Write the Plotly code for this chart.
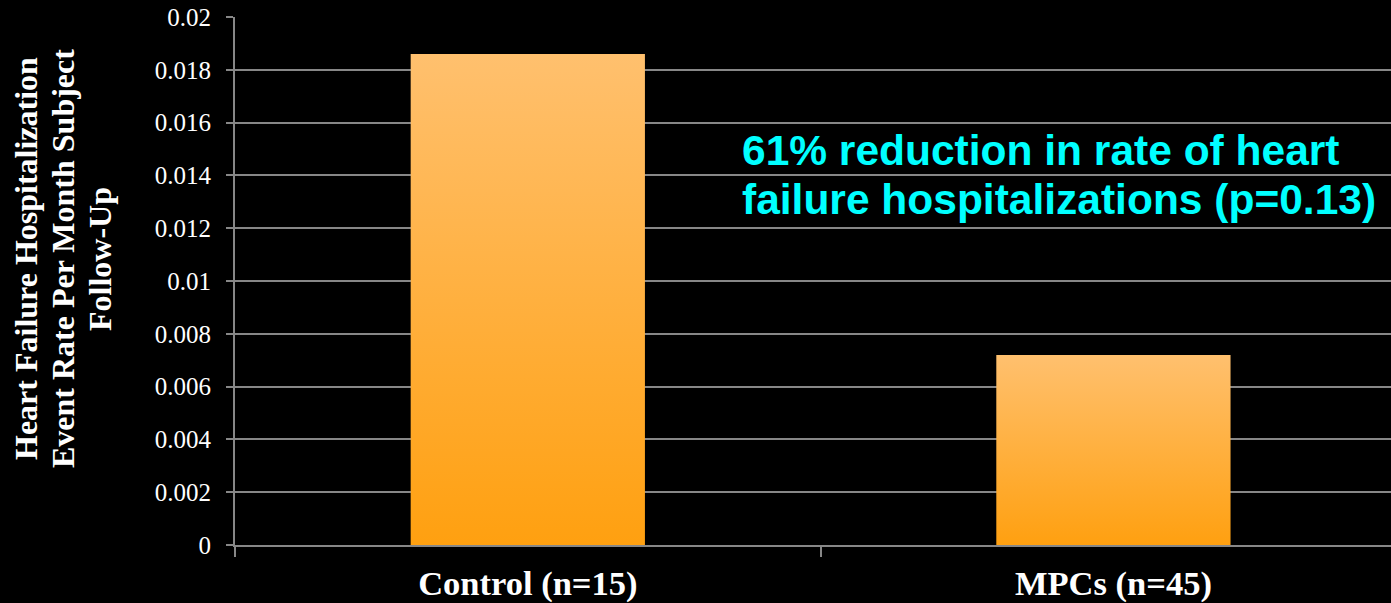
import plotly.graph_objects as go

# data
groups = ['Control (n=15)', 'MPCs (n=45)']
rates = [0.0186, 0.0072]
y_ticks = [0, 0.002, 0.004, 0.006, 0.008, 0.01, 0.012, 0.014, 0.016, 0.018, 0.02]
y_title = ['Heart Failure Hospitalization', 'Event Rate Per Month Subject', 'Follow-Up']
note = ['61% reduction in rate of heart', 'failure hospitalizations (p=0.13)']

bar_half = 0.2
grid_col = '#878787'
serif = 'Liberation Serif, Times New Roman, serif'
W, H = 1391, 603
L, R, T, B = 235, 0, 17, 58
pw, ph = W - L - R, H - T - B

fig = go.Figure()

# bars drawn as filled shapes so they can carry the vertical gradient
for i, (g, v) in enumerate(zip(groups, rates)):
    fig.add_trace(go.Scatter(
        x=[i - bar_half, i + bar_half, i + bar_half, i - bar_half, i - bar_half],
        y=[0, 0, v, v, 0],
        mode='lines', fill='toself', line=dict(width=0),
        fillgradient=dict(type='vertical',
                          colorscale=[[0, '#FFA010'], [1, '#FFC06E']]),
        name=g, hoverinfo='skip'))

# y axis title, one annotation per line (pixel x of each line centre)
for line, px in zip(y_title, [26, 63, 100]):
    fig.add_annotation(
        text='<b>%s</b>' % line, textangle=-90,
        xref='paper', yref='paper', x=(px - L) / pw, y=(H - B - 259) / ph,
        xanchor='center', yanchor='middle', showarrow=False,
        font=dict(family=serif, size=32, color='white'))

# callout text, one annotation per line (pixel y of each line centre)
for line, py in zip(note, [150, 200]):
    fig.add_annotation(
        text='<b>%s</b>' % line, align='left',
        xref='paper', yref='paper', x=(740 - L) / pw, y=(H - B - py) / ph,
        xanchor='left', yanchor='middle', showarrow=False,
        font=dict(family='Liberation Sans, Arial, sans-serif', size=42.5, color='#00FFFF'))

fig.update_layout(
    width=W, height=H,
    margin=dict(l=L, r=R, t=T, b=B),
    paper_bgcolor='black', plot_bgcolor='black',
    showlegend=False,
    font=dict(family=serif, color='white'))

fig.update_xaxes(
    range=[-0.5, 1.474], tickvals=[0, 1],
    ticktext=['<b>%s</b>' % g for g in groups],
    tickfont=dict(size=34.5), ticks='', showgrid=False, zeroline=False,
    ticklabelstandoff=7, automargin=False,
    showline=True, linecolor=grid_col, linewidth=2,
    minor=dict(tickmode='array', tickvals=[-0.5, 0.5], ticks='outside',
               ticklen=10, tickwidth=2, tickcolor=grid_col, showgrid=False))

fig.update_yaxes(
    range=[0, 0.02], tickvals=y_ticks,
    ticktext=['%g' % t for t in y_ticks],
    tickfont=dict(size=25), ticks='outside', ticklen=7, tickwidth=2,
    tickcolor=grid_col, showgrid=True, gridcolor=grid_col, gridwidth=2,
    ticklabelstandoff=10,
    zeroline=False, showline=True, linecolor=grid_col, linewidth=2,
    automargin=False)

fig.write_html('out.html', config={'displayModeBar': False},
               post_script="document.body.style.margin='0';")
